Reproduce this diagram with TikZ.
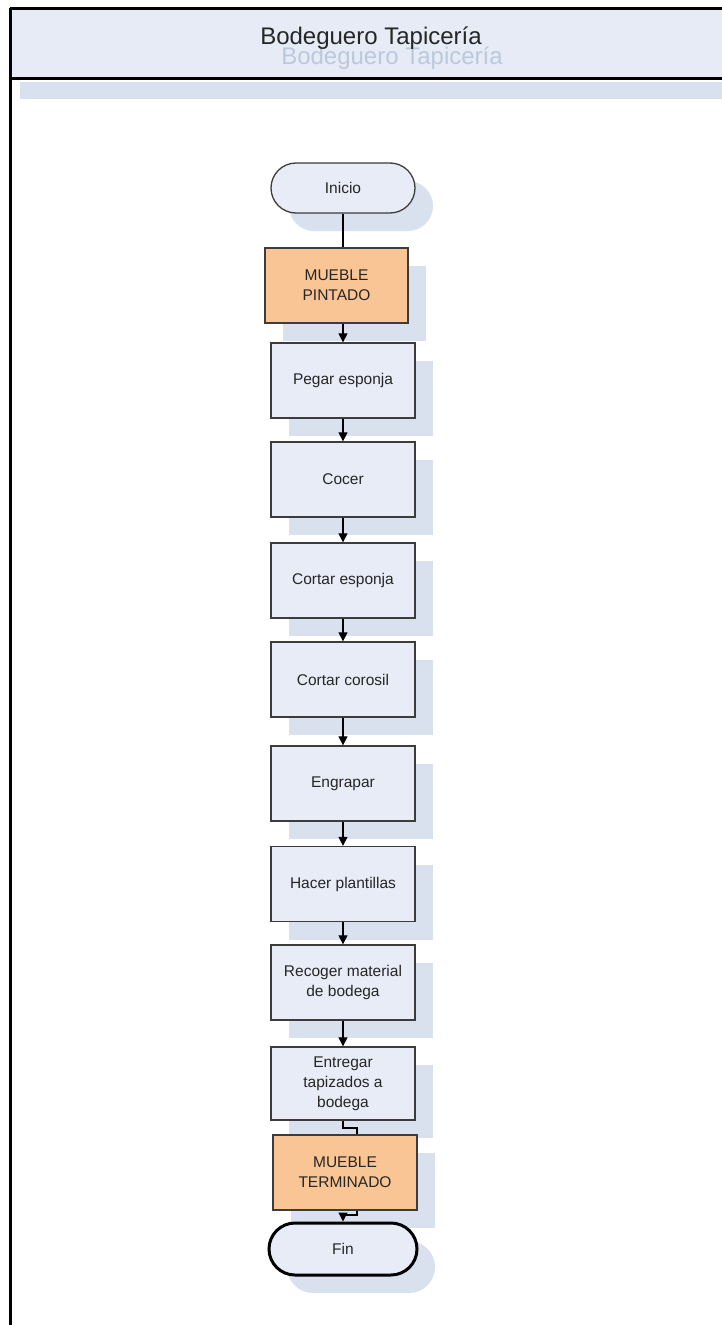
\documentclass[tikz,border=0pt]{standalone}
\usepackage{fontspec}
\setmainfont{Liberation Sans}
\usetikzlibrary{arrows.meta,shadows}
\definecolor{boxfill}{HTML}{E8ECF7}
\definecolor{shadowc}{HTML}{DAE1EE}
\definecolor{orangefill}{HTML}{FAC595}
\definecolor{headfill}{HTML}{E6EBF6}
\definecolor{ghost}{HTML}{BCC8DC}
\definecolor{edgec}{HTML}{3C3C3C}
\tikzset{
  shad/.style={drop shadow={shadow xshift=18pt,shadow yshift=-18pt,fill=shadowc,opacity=1}},
  proc/.style={rectangle,draw=edgec,line width=1.3pt,fill=boxfill,shad,minimum width=144pt,minimum height=75pt,
    align=center,inner sep=2pt,font=\fontsize{15.5}{20}\selectfont,text=black!85},
  orng/.style={proc,fill=orangefill},
  term/.style={rectangle,rounded corners=25pt,draw=edgec,line width=1.3pt,fill=boxfill,shad,minimum width=144pt,
    minimum height=50pt,font=\fontsize{15.5}{20}\selectfont,text=black!85},
  conn/.style={line width=1.1pt,black},
  arr/.style={conn,-{Triangle[length=9pt,width=9pt]}},
}
\begin{document}
\begin{tikzpicture}[x=1pt,y=-1pt]
\useasboundingbox (0,0) rectangle (722,1325);
\fill[white] (0,0) rectangle (722,1325);
% header
\fill[headfill] (10,8) rectangle (730,78);
\fill[shadowc] (20,82) rectangle (730,99);
\draw[line width=3pt,black] (10,8) -- (730,8);
\draw[line width=3pt,black] (10,78) -- (730,78);
\draw[line width=3pt,black] (10,8) -- (10,1330);
\node[font=\fontsize{24}{28}\selectfont,text=ghost] (ghosttitle) at (392,58) {Bodeguero Tapicería};
\node[font=\fontsize{24}{28}\selectfont,text=black!85] (title) at (371,38) {Bodeguero Tapicería};
% nodes
\node[term] (ini) at (343,188) {Inicio};
\node[orng,minimum width=143pt] (mp) at (336.5,285.5) {MUEBLE\\PINTADO};
\node[proc] (p1) at (343,380.5) {Pegar esponja};
\node[proc] (p2) at (343,479.5) {Cocer};
\node[proc] (p3) at (343,580.5) {Cortar esponja};
\node[proc] (p4) at (343,679.5) {Cortar corosil};
\node[proc] (p5) at (343,783.5) {Engrapar};
\node[proc] (p6) at (343,884) {Hacer plantillas};
\node[proc] (p7) at (343,982.5) {Recoger material\\de bodega};
\node[proc,minimum height=73pt] (p8) at (343,1083.5) {Entregar\\tapizados a\\bodega};
\node[orng] (mt) at (345,1172.5) {MUEBLE\\TERMINADO};
\node[term,draw=black,line width=3pt,minimum width=148pt,minimum height=52pt,rounded corners=26pt] (fin) at (343,1249) {Fin};
% connectors
\draw[conn] (ini.south) -- (ini.south |- mp.north);
\draw[arr] (p1.north |- mp.south) -- (p1.north);
\draw[arr] (p1.south) -- (p2.north);
\draw[arr] (p2.south) -- (p3.north);
\draw[arr] (p3.south) -- (p4.north);
\draw[arr] (p4.south) -- (p5.north);
\draw[arr] (p5.south) -- (p6.north);
\draw[arr] (p6.south) -- (p7.north);
\draw[arr] (p7.south) -- (p8.north);
\coordinate (k1) at (357,1128);
\draw[conn] (p8.south) |- (k1) -- (k1 |- mt.north);
\coordinate (k2) at (357,1215);
\draw[arr] (k2 |- mt.south) -- (k2) -| (fin.north);
\end{tikzpicture}
\end{document}
